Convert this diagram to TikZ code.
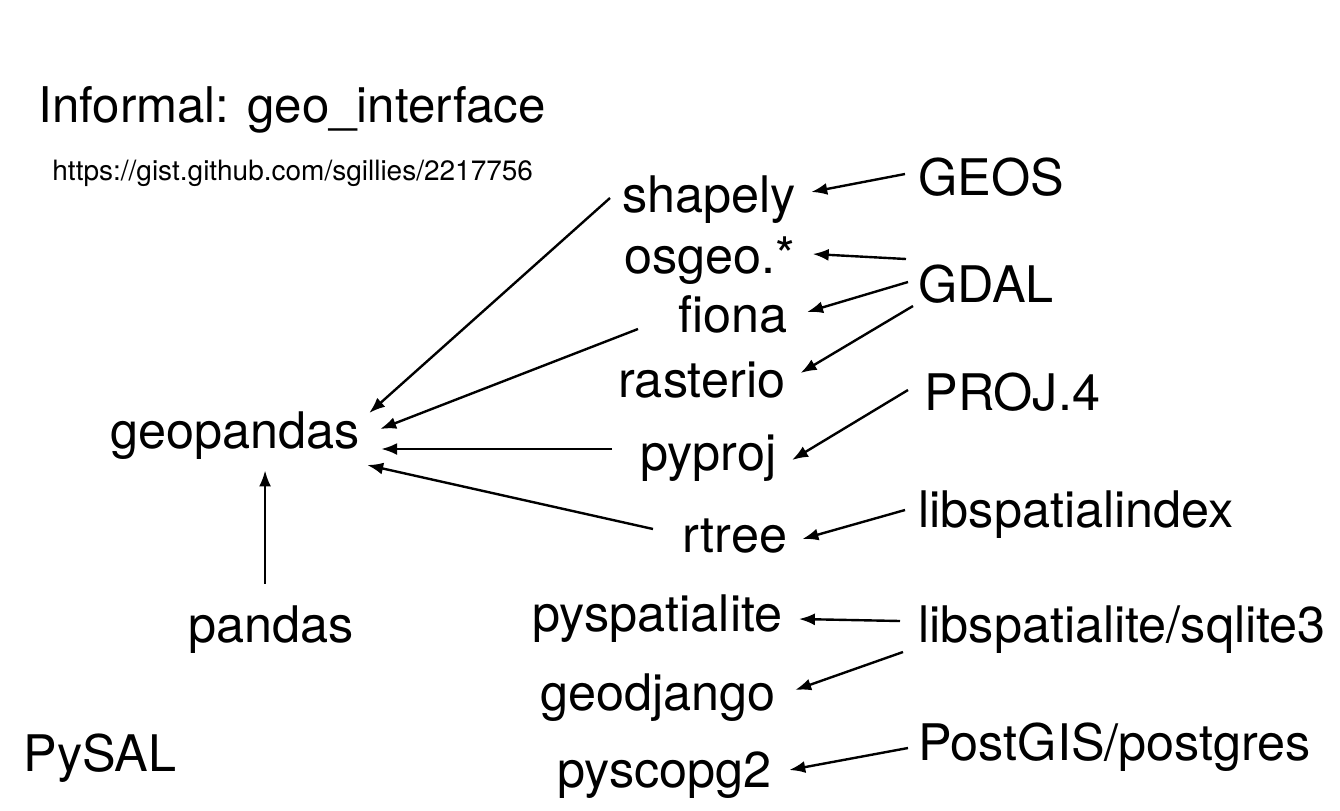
\documentclass[tikz,border=0pt]{standalone}
\usepackage{fontspec}
\setmainfont{TeX Gyre Heros}
\usepackage{tikz}
\usetikzlibrary{arrows.meta,calc}

\begin{document}
\begin{tikzpicture}[
			x=0.5pt, y=-0.5pt,
			pkg/.style={inner sep=0, anchor=base west, text height=17pt, text depth=5pt, font=\fontsize{25.2}{29}\selectfont},
			lib/.style={pkg},
			note/.style={inner sep=0, anchor=base west, font=\fontsize{14}{17}\selectfont},
			dep/.style={line width=1.2pt, -{Latex[length=8pt,width=6pt]}}
		]
		\useasboundingbox (0,0) rectangle (1340,810);
		\node[pkg, font=\fontsize{24.6}{29}\selectfont] (title) at (38,122) {Informal: geo\_interface};
		\node[note] (gist)     at (52,180)  {https://gist.github.com/sgillies/2217756};

		\node[pkg]  (geopandas) at (110,448) {geopandas};
		\node[pkg]  (pandas)    at (188,642) {pandas};
		\node[pkg]  (pysal)     at (23,771)  {PySAL};

		\node[pkg]  (shapely)  at (622,212) {shapely};
		\node[pkg]  (osgeo)    at (624,273) {osgeo.*};
		\node[pkg]  (fiona)    at (678,332) {fiona};
		\node[pkg]  (rasterio) at (618,397) {rasterio};
		\node[pkg]  (pyproj)   at (640,470) {pyproj};
		\node[pkg]  (rtree)    at (682,552) {rtree};
		\node[pkg]  (pyspatialite) at (532,631) {pyspatialite};
		\node[pkg]  (geodjango) at (540,710) {geodjango};
		\node[pkg]  (pyscopg)  at (557,787) {pyscopg2};

		\node[lib]  (geos)     at (918,195) {GEOS};
		\node[lib]  (gdal)     at (918,302) {GDAL};
		\node[lib]  (proj)     at (924,410) {PROJ.4};
		\node[lib]  (spindex)  at (918,527) {libspatialindex};
		\node[lib]  (splite)   at (918,642) {libspatialite/sqlite3};
		\node[lib]  (postgis)  at (918,760) {PostGIS/postgres};

		% C libraries -> python bindings
		\draw[dep] ($(geos.west)+(-13,-9)$)    -- ($(shapely.east)+(15,-8)$);
		\draw[dep] ($(gdal.west)+(-12,-31)$)   -- ($(osgeo.east)+(17,-7)$);
		\draw[dep] ($(gdal.west)+(-10,-8)$)    -- ($(fiona.east)+(19,-8)$);
		\draw[dep] ($(gdal.west)+(-5,16)$)     -- ($(rasterio.east)+(15,-12)$);
		\draw[dep] ($(proj.west)+(-16,-8)$)    -- ($(pyproj.east)+(15,2)$);
		\draw[dep] ($(spindex.west)+(-13,-5)$) -- ($(rtree.east)+(15,-1)$);
		\draw[dep] ($(splite.west)+(-18,-9)$)  -- ($(pyspatialite.east)+(16,0)$);
		\draw[dep] ($(splite.west)+(-15,22)$)  -- ($(geodjango.east)+(19,-8)$);
		\draw[dep] ($(postgis.west)+(-10,0)$)  -- ($(pyscopg.east)+(17,-5)$);

		% packages -> geopandas
		\draw[dep] ($(shapely.west)+(-12,-2)$) -- ($(geopandas.east)+(9,-23)$);
		\draw[dep] ($(fiona.west)+(-40,9)$)    -- ($(geopandas.east)+(20,-7)$);
		\draw[dep] ($(pyproj.west)+(-28,-9)$)  -- ($(geopandas.east)+(21,13)$);
		\draw[dep] ($(rtree.west)+(-29,-11)$)  -- ($(geopandas.east)+(7,29)$);
		\draw[dep] ($(pandas.north)+(-6,-24)$) -- ($(pandas.north |- geopandas.south)+(-6,12)$);
\end{tikzpicture}
\end{document}
